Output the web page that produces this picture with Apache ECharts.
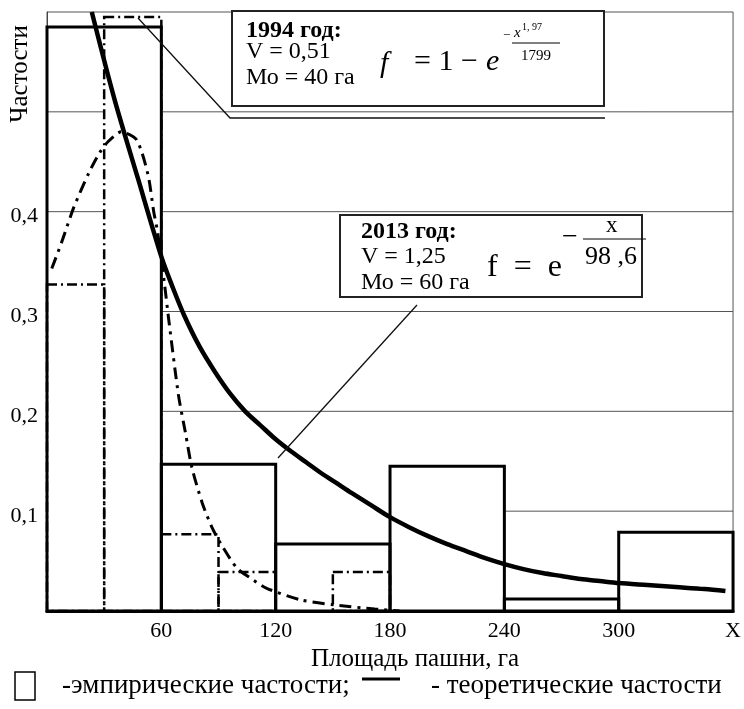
<!DOCTYPE html>
<html><head><meta charset="utf-8">
<script src="https://cdn.jsdelivr.net/npm/echarts@6/dist/echarts.min.js"></script>
<style>html,body{margin:0;padding:0;background:#fff}#c{width:744px;height:709px}</style>
</head><body><div id="c"></div>
<script>
// ---- data ----
const xTicks = [0, 60, 120, 180, 240, 300, 360];
const xTickLabels = ['', '60', '120', '180', '240', '300', 'X'];
const yTickLabels = ['', '0,1', '0,2', '0,3', '0,4', '', ''];
const bins2013From = [0, 60, 120, 180, 240, 300];
const bins2013To = [60, 120, 180, 240, 300, 360];
const freq2013 = [0.585, 0.147, 0.067, 0.145, 0.012, 0.079];
const bins1994From = [0, 30, 60, 90, 120, 150];
const bins1994To = [30, 60, 90, 120, 150, 180];
const freq1994 = [0.327, 0.595, 0.077, 0.039, 0, 0.039];
const theory2013X = [23.5, 35.5, 47.6, 60, 66, 72, 80, 88, 96, 104, 112, 120, 128, 136, 144, 152, 160, 170, 180, 190, 200, 210, 220, 230, 240, 250, 260, 270, 280, 290, 300, 315, 330, 345, 356];
const theory2013Y = [0.6, 0.512, 0.434, 0.355, 0.324, 0.296, 0.265, 0.24, 0.218, 0.2, 0.186, 0.172, 0.16, 0.149, 0.138, 0.128, 0.118, 0.106, 0.094, 0.084, 0.075, 0.067, 0.06, 0.053, 0.047, 0.042, 0.038, 0.035, 0.032, 0.03, 0.028, 0.026, 0.024, 0.022, 0.02];
const theory1994X = [2.5, 7.8, 14, 22, 27.6, 32, 39, 47, 53, 56, 58, 61.5, 64, 69, 72.5, 76, 81.5, 86.5, 91, 99.6, 106, 115, 133.5, 151, 172, 185];
const theory1994Y = [0.343, 0.37, 0.404, 0.439, 0.459, 0.47, 0.48, 0.472, 0.437, 0.40, 0.38, 0.33, 0.29, 0.216, 0.18, 0.144, 0.108, 0.084, 0.068, 0.043, 0.034, 0.023, 0.011, 0.006, 0.002, 0];
const gridY = [0.1, 0.2, 0.3, 0.4, 0.5];
const gridFrom = [240, 0, 0, 0, 0];
const X_MAX = 360;

// ---- chart ----
const SERIF = '"Liberation Serif", "DejaVu Serif", serif';
const chart = echarts.init(document.getElementById('c'));

function rectItem(fill, stroke, width, dash) {
  return function (params, api) {
    const p0 = api.coord([api.value(0), api.value(2)]);
    const p1 = api.coord([api.value(1), 0]);
    return {
      type: 'rect',
      shape: { x: p0[0], y: p0[1], width: p1[0] - p0[0], height: p1[1] - p0[1] },
      style: { fill: fill, stroke: stroke, lineWidth: width, lineDash: dash || null }
    };
  };
}

const data2013 = bins2013From.map((f, i) => [f, bins2013To[i], freq2013[i]]);
const data1994 = bins1994From.map((f, i) => [f, bins1994To[i], freq1994[i]]).filter(d => d[2] > 0);

function txt(x, y, text, font, extra) {
  return Object.assign({ type: 'text', z: 22, x: x, y: y,
    style: { text: text, font: font, fill: '#000', verticalAlign: 'middle', textVerticalAlign: 'middle' } }, extra || {});
}

const option = {
  animation: false,
  backgroundColor: '#fff',
  grid: { left: 47, right: 7, top: 12, bottom: 98, show: true, borderColor: '#555', borderWidth: 1 },
  xAxis: {
    type: 'value', min: 0, max: X_MAX, interval: 60, z: 10,
    axisLine: { show: true, onZero: false, lineStyle: { color: '#000', width: 3 } },
    axisTick: { show: false }, splitLine: { show: false },
    axisLabel: {
      color: '#000', fontFamily: SERIF, fontSize: 22, margin: 9,
      formatter: v => { const i = xTicks.indexOf(Math.round(v)); return i >= 0 ? xTickLabels[i] : ''; }
    },
    name: 'Площадь пашни, га', nameLocation: 'middle', nameGap: 33,
    nameTextStyle: { color: '#000', fontFamily: SERIF, fontSize: 25, padding: [0, 0, 0, 50] }
  },
  yAxis: {
    type: 'value', min: 0, max: 0.6, interval: 0.1,
    axisLine: { show: true, lineStyle: { color: '#444', width: 1 } },
    axisTick: { show: false }, splitLine: { show: false },
    axisLabel: {
      color: '#000', fontFamily: SERIF, fontSize: 22, margin: 9, verticalAlign: 'top', lineHeight: 10,
      formatter: v => yTickLabels[Math.round(v * 10)] || ''
    }
  },
  series: [
    { // partial gridlines
      type: 'custom', z: 1, silent: true,
      data: gridY.map((y, i) => [gridFrom[i], y]),
      renderItem: (params, api) => {
        const a = api.coord([api.value(0), api.value(1)]);
        const b = api.coord([X_MAX, api.value(1)]);
        return { type: 'line', shape: { x1: a[0], y1: a[1], x2: b[0], y2: b[1] }, style: { stroke: '#555', lineWidth: 1 } };
      }
    },
    { type: 'custom', z: 2, silent: true, data: data1994, renderItem: rectItem('#fff', null, 0) },
    { type: 'custom', z: 3, silent: true, data: data2013, renderItem: rectItem('none', '#000', 3) },
    { type: 'custom', z: 4, silent: true, data: data1994, renderItem: rectItem('none', '#000', 2.5, [10, 4, 2, 4]) },
    {
      type: 'line', z: 5, silent: true, symbol: 'none', smooth: 0.25,
      data: theory1994X.map((x, i) => [x, theory1994Y[i]]),
      lineStyle: { color: '#000', width: 3, type: [12, 6, 3, 6] }
    },
    {
      type: 'line', z: 6, silent: true, symbol: 'none', smooth: 0.3,
      data: theory2013X.map((x, i) => [x, theory2013Y[i]]),
      lineStyle: { color: '#000', width: 4.5 }
    }
  ],
  graphic: [
    // y axis name
    { type: 'text', x: 20, y: 74, rotation: Math.PI / 2, z: 20,
      style: { text: 'Частости', font: '25px ' + SERIF, fill: '#000', align: 'center', verticalAlign: 'middle', textAlign: 'center', textVerticalAlign: 'middle' } },
    // leader lines
    { type: 'polyline', z: 20, shape: { points: [[138, 18], [230, 118], [605, 118]] }, style: { stroke: '#111', lineWidth: 1.3, fill: 'none' } },
    { type: 'line', z: 20, shape: { x1: 417, y1: 305, x2: 278, y2: 458 }, style: { stroke: '#111', lineWidth: 1.3 } },
    // box 1994
    { type: 'rect', z: 21, shape: { x: 232, y: 11, width: 372, height: 95 }, style: { fill: '#fff', stroke: '#222', lineWidth: 2 } },
    txt(246, 31, '1994 год:', 'bold 24px ' + SERIF),
    txt(246, 52, 'V = 0,51', '24px ' + SERIF),
    txt(246, 78, 'Мо = 40 га', '24px ' + SERIF),
    txt(380, 64, 'f', 'italic 30px ' + SERIF),
    txt(414, 62, '= 1 −', '30px ' + SERIF),
    txt(486, 62, 'e', 'italic 30px ' + SERIF),
    txt(503, 36, '−', '13px ' + SERIF),
    txt(514, 33, 'x', 'italic 15px ' + SERIF),
    txt(522, 27, '1, 97', '10px ' + SERIF),
    { type: 'line', z: 22, shape: { x1: 512, y1: 43, x2: 560, y2: 43 }, style: { stroke: '#000', lineWidth: 1 } },
    txt(521, 56, '1799', '15px ' + SERIF),
    // box 2013
    { type: 'rect', z: 21, shape: { x: 340, y: 215, width: 302, height: 82 }, style: { fill: '#fff', stroke: '#222', lineWidth: 2 } },
    txt(361, 232, '2013 год:', 'bold 24px ' + SERIF),
    txt(361, 257, 'V = 1,25', '24px ' + SERIF),
    txt(361, 283, 'Мо = 60 га', '24px ' + SERIF),
    txt(487, 268, 'f  =  e', '32px ' + SERIF),
    txt(562, 238, '−', '28px ' + SERIF),
    txt(606, 226, 'x', '23px ' + SERIF),
    { type: 'line', z: 22, shape: { x1: 583, y1: 239, x2: 646, y2: 239 }, style: { stroke: '#000', lineWidth: 1 } },
    txt(585, 257, '98 ,6', '26px ' + SERIF),
    // legend
    { type: 'rect', z: 20, shape: { x: 15, y: 672, width: 20, height: 28 }, style: { fill: 'none', stroke: '#000', lineWidth: 1.5 } },
    txt(62, 686, '-эмпирические частости;', '27px ' + SERIF),
    { type: 'line', z: 20, shape: { x1: 362, y1: 679, x2: 400, y2: 679 }, style: { stroke: '#000', lineWidth: 3 } },
    txt(431, 686, '- теоретические частости', '27px ' + SERIF)
  ]
};
chart.setOption(option);
</script>
</body></html>
